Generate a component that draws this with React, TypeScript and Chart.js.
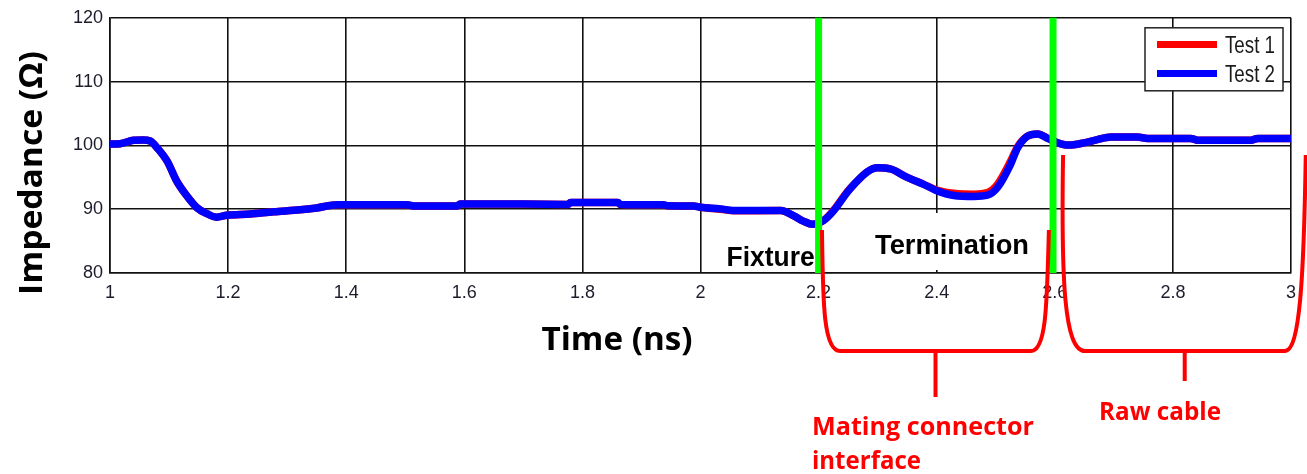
import React, { useEffect, useRef } from 'react';
import { Chart, registerables } from 'chart.js';

Chart.register(...registerables);

// ---- data ----
const timeNs = [
  1.0, 1.017, 1.04, 1.056, 1.068, 1.08, 1.097, 1.113, 1.13, 1.147, 1.164, 1.18, 1.198,
  1.237, 1.277, 1.322, 1.35, 1.385, 1.44, 1.503, 1.514, 1.588, 1.593, 1.7, 1.776, 1.78,
  1.86, 1.864, 1.937, 1.944, 1.988, 2.0, 2.034, 2.056, 2.136, 2.158, 2.175, 2.19, 2.208,
  2.225, 2.249, 2.26, 2.283, 2.3, 2.322, 2.35, 2.378, 2.4, 2.429, 2.463, 2.486, 2.503,
  2.525, 2.537, 2.553, 2.571, 2.588, 2.605, 2.622, 2.632, 2.649, 2.672, 2.695, 2.74,
  2.757, 2.83, 2.842, 2.932, 2.944, 3.0,
];

const test1 = [
  100.2, 100.25, 100.8, 100.85, 100.7, 99.6, 97.5, 94.4, 92.1, 90.25, 89.3, 88.75, 89.05,
  89.25, 89.6, 89.9, 90.2, 90.7, 90.7, 90.7, 90.5, 90.5, 90.8, 90.8, 90.75, 91.05,
  91.05, 90.75, 90.7, 90.55, 90.5, 90.3, 90.0, 89.75, 89.8, 88.95, 88.1, 87.65, 88.2,
  89.8, 92.8, 93.9, 95.9, 96.5, 96.3, 95.0, 93.9, 93.0, 92.5, 92.35, 92.6, 93.9,
  97.5, 99.8, 101.4, 101.8, 101.1, 100.4, 100.05, 100.1, 100.4, 100.9, 101.3, 101.3,
  101.1, 101.1, 100.8, 100.8, 101.1, 101.1,
];

const test2 = [
  100.2, 100.25, 100.8, 100.85, 100.7, 99.6, 97.5, 94.4, 92.1, 90.25, 89.3, 88.75, 89.05,
  89.25, 89.6, 89.9, 90.2, 90.7, 90.7, 90.7, 90.5, 90.5, 90.8, 90.8, 90.75, 91.05,
  91.05, 90.75, 90.7, 90.55, 90.5, 90.3, 90.05, 89.8, 89.8, 88.95, 88.1, 87.65, 88.2,
  89.7, 92.7, 93.9, 95.9, 96.5, 96.3, 95.0, 93.9, 92.9, 92.15, 92.0, 92.2, 93.4,
  97.0, 99.6, 101.4, 101.8, 101.1, 100.4, 100.05, 100.1, 100.4, 100.9, 101.3, 101.3,
  101.1, 101.1, 100.8, 100.8, 101.1, 101.1,
];

const seriesNames = ['Test 1', 'Test 2'];
const seriesColors = ['#ff0000', '#0000ff'];

const xTickValues = [1, 1.2, 1.4, 1.6, 1.8, 2, 2.2, 2.4, 2.6, 2.8, 3];
const yTickValues = [80, 90, 100, 110, 120];

const boundaryTimes = [2.2, 2.597];
const xTitle = 'Time (ns)';
const yTitle = 'Impedance (Ω)';
const regionNames = ['Fixture', 'Termination'];
const bracketNames = [['Mating connector', 'interface'], ['Raw cable']];

// ---- helpers ----
function fitText(
  ctx: CanvasRenderingContext2D,
  text: string,
  x: number,
  y: number,
  font: string,
  width: number,
  color: string,
  align: 'left' | 'center' | 'right' = 'left'
) {
  ctx.save();
  ctx.font = font;
  ctx.fillStyle = color;
  ctx.textAlign = 'left';
  ctx.textBaseline = 'alphabetic';
  const w = ctx.measureText(text).width;
  const sx = width / w;
  const left = align === 'left' ? x : align === 'center' ? x - width / 2 : x - width;
  ctx.translate(left, y);
  ctx.scale(sx, 1);
  ctx.fillText(text, 0, 0);
  ctx.restore();
}

const annotations = {
  id: 'annotations',
  afterDatasetsDraw(chart: any) {
    const { ctx, chartArea, scales } = chart;
    const x = scales.x;
    ctx.save();
    // green boundary lines
    ctx.strokeStyle = '#00ff00';
    ctx.lineWidth = 7;
    boundaryTimes.forEach((t) => {
      const px = x.getPixelForValue(t);
      ctx.beginPath();
      ctx.moveTo(px, chartArea.top);
      ctx.lineTo(px, chartArea.bottom);
      ctx.stroke();
    });
    // white box behind "Termination"
    ctx.fillStyle = '#ffffff';
    ctx.fillRect(865, chartArea.bottom - 60, 175, 57);
    ctx.restore();

    const bfont = 'bold 27px "Liberation Sans", Arial, sans-serif';
    fitText(ctx, regionNames[0], x.getPixelForValue(2.2) - 4, chartArea.bottom - 7, bfont, 88, '#000', 'right');
    fitText(ctx, regionNames[1], 952, chartArea.bottom - 19, bfont, 154, '#000', 'center');
  },
  afterDraw(chart: any) {
    const { ctx, chartArea, scales } = chart;
    const x = scales.x;
    const titleFont = 'bold 33px "Open Sans", sans-serif';

    // x title
    fitText(ctx, xTitle, 617, 350, titleFont, 151, '#000', 'center');
    // y title
    ctx.save();
    ctx.translate(42, 173);
    ctx.rotate(-Math.PI / 2);
    fitText(ctx, yTitle, 0, 0, titleFont, 244, '#000', 'center');
    ctx.restore();

    // legend
    const lx = chartArea.right - 146;
    const ly = chartArea.top + 10;
    ctx.save();
    ctx.fillStyle = '#ffffff';
    ctx.fillRect(lx, ly, 138, 63);
    ctx.strokeStyle = '#222222';
    ctx.lineWidth = 1.5;
    ctx.strokeRect(lx, ly, 138, 63);
    seriesNames.forEach((name, i) => {
      const cy = ly + 16.7 + i * 29;
      ctx.strokeStyle = seriesColors[i];
      ctx.lineWidth = 7;
      ctx.beginPath();
      ctx.moveTo(lx + 12, cy);
      ctx.lineTo(lx + 72, cy);
      ctx.stroke();
      fitText(ctx, name, lx + 80, cy + 8.5, '23px "Liberation Sans", Arial, sans-serif', 50, '#1a1a1a', 'left');
    });
    ctx.restore();

    // red brackets
    const yb = 351;
    ctx.save();
    ctx.strokeStyle = '#ff0000';
    ctx.lineWidth = 4;
    ctx.lineCap = 'butt';
    ctx.lineJoin = 'round';
    // Mating connector bracket
    const aL = x.getPixelForValue(2.2057);
    const aR = x.getPixelForValue(2.59);
    ctx.beginPath();
    ctx.moveTo(aL, 230);
    ctx.bezierCurveTo(aL + 1, 300, aL + 1, yb, aL + 18, yb);
    ctx.lineTo(aR - 18, yb);
    ctx.bezierCurveTo(aR - 2, yb, aR - 2, 300, aR, 230);
    ctx.stroke();
    const aS = x.getPixelForValue(2.398);
    ctx.beginPath();
    ctx.moveTo(aS, yb);
    ctx.lineTo(aS, 397);
    ctx.stroke();
    // Raw cable bracket
    const bL = x.getPixelForValue(2.614);
    const bR = x.getPixelForValue(3.025);
    ctx.beginPath();
    ctx.moveTo(bL, 155);
    ctx.bezierCurveTo(bL - 2, 280, bL + 1, yb, bL + 22, yb);
    ctx.lineTo(bR - 21, yb);
    ctx.bezierCurveTo(bR - 6, yb, bR - 2, 280, bR, 155);
    ctx.stroke();
    const bS = x.getPixelForValue(2.82);
    ctx.beginPath();
    ctx.moveTo(bS, yb);
    ctx.lineTo(bS, 381);
    ctx.stroke();
    ctx.restore();

    const rfont = 'bold 25px "Open Sans", sans-serif';
    fitText(ctx, bracketNames[0][0], 812, 435, rfont, 222, '#ff0000', 'left');
    fitText(ctx, bracketNames[0][1], 812, 469, rfont, 109, '#ff0000', 'left');
    fitText(ctx, bracketNames[1][0], 1099, 420, rfont, 122, '#ff0000', 'left');
  },
};

export default function App() {
  const canvasRef = useRef<HTMLCanvasElement | null>(null);

  useEffect(() => {
    const canvas = canvasRef.current;
    if (!canvas) return;
    const gridColor = '#111111';
    const tickFont = { family: '"Liberation Sans", Arial, sans-serif', size: 18 };
    const chart = new Chart(canvas, {
      type: 'line',
      data: {
        datasets: [
          {
            label: seriesNames[0],
            data: timeNs.map((t, i) => ({ x: t, y: test1[i] })),
            borderColor: seriesColors[0],
            borderWidth: 7.5,
            pointRadius: 0,
            cubicInterpolationMode: 'monotone',
            borderCapStyle: 'round',
            borderJoinStyle: 'round',
            order: 1,
          },
          {
            label: seriesNames[1],
            data: timeNs.map((t, i) => ({ x: t, y: test2[i] })),
            borderColor: seriesColors[1],
            borderWidth: 7.5,
            pointRadius: 0,
            cubicInterpolationMode: 'monotone',
            borderCapStyle: 'round',
            borderJoinStyle: 'round',
            order: 0,
          },
        ],
      },
      options: {
        responsive: false,
        animation: false,
        devicePixelRatio: 1,
        layout: { padding: { top: 16, right: 16, bottom: 0, left: 0 } },
        plugins: {
          legend: { display: false },
          tooltip: { enabled: false },
        },
        scales: {
          x: {
            type: 'linear',
            min: 1,
            max: 3,
            afterBuildTicks: (s: any) => {
              s.ticks = xTickValues.map((v) => ({ value: v }));
            },
            afterFit: (s: any) => {
              s.height = 201;
            },
            ticks: {
              font: tickFont,
              color: '#1c1c2a',
              padding: 9,
              maxRotation: 0,
              autoSkip: false,
              callback: (v: any) => String(v),
            },
            grid: { color: gridColor, lineWidth: 1.6, drawTicks: false },
            border: { color: gridColor, width: 1.6 },
          },
          y: {
            type: 'linear',
            min: 80,
            max: 120,
            afterBuildTicks: (s: any) => {
              s.ticks = yTickValues.map((v) => ({ value: v }));
            },
            afterFit: (s: any) => {
              s.width = 110;
            },
            ticks: {
              font: tickFont,
              color: '#1c1c2a',
              padding: 7,
              autoSkip: false,
              callback: (v: any) => String(v),
            },
            grid: { color: gridColor, lineWidth: 1.6, drawTicks: false },
            border: { color: gridColor, width: 1.6 },
          },
        },
      },
      plugins: [annotations],
    });
    return () => chart.destroy();
  }, []);

  return (
    <div style={{ position: 'absolute', left: 0, top: 0, width: 1307, height: 474, background: '#fff' }}>
      <canvas ref={canvasRef} width={1307} height={474} style={{ display: 'block', width: 1307, height: 474 }} />
    </div>
  );
}
